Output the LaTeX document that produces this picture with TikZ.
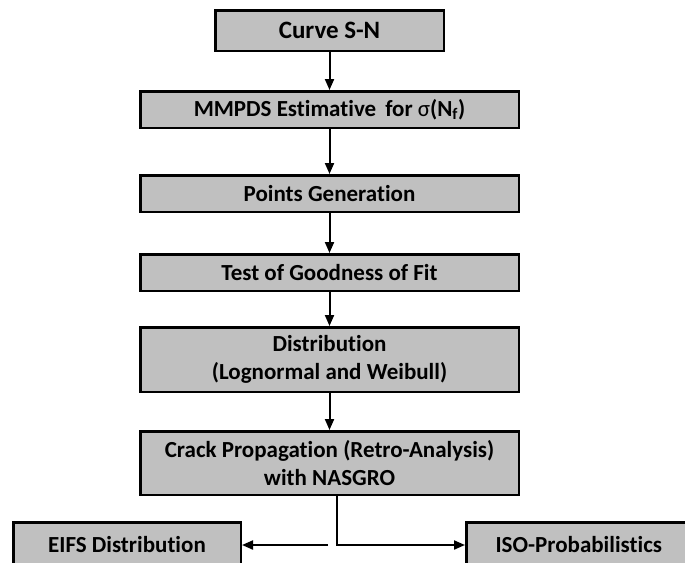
\documentclass[tikz,border=0pt]{standalone}
\usepackage{fontspec}
\setmainfont[Ligatures=NoCommon]{Carlito}
\usetikzlibrary{arrows.meta}
\definecolor{boxgray}{RGB}{192,192,192}
\tikzset{
  box/.style={draw, line width=2.5pt, fill=boxgray, minimum width=378.5pt,
    minimum height=36.5pt, inner sep=0pt, align=center,
    font=\bfseries\fontsize{23}{28}\selectfont},
  arr/.style={line width=2pt, -{Triangle[length=11pt,width=9pt]}},
}
\begin{document}
\begin{tikzpicture}[x=1pt,y=-1pt]
        \clip (0,0) rectangle (685,562);
        \fill[white] (0,0) rectangle (685,562);

        \node[box, minimum width=228.5pt, minimum height=40.5pt,
          font=\bfseries\fontsize{25}{30}\selectfont] at (329.5,30.5) (curve) {Curve S-N};
        \node[box] at (329.5,109.5) (mmpds) {MMPDS Estimative\, for {\mdseries σ}(N\textsubscript{f})};
        \node[box] at (329.5,193.5) (points) {Points Generation};
        \node[box] at (329.5,272.5) (test) {Test of Goodness of Fit};
        \node[box, minimum height=64.5pt] at (329.5,359.5) (dist) {Distribution\\(Lognormal and Weibull)};
        \node[box, minimum height=63.5pt] at (329.5,463) (crack) {Crack Propagation (Retro-Analysis)\\with NASGRO};
        \node[box, minimum width=227.5pt, minimum height=45.5pt] at (127,545) (eifs) {EIFS Distribution};
        \node[box, minimum width=225pt, minimum height=45.5pt] at (578.75,545) (iso) {ISO-Probabilistics};
        \coordinate (gap) at (328,545);

        \draw[arr] (curve) edge (mmpds);
        \draw[arr] (mmpds) edge (points);
        \draw[arr] (points) edge (test);
        \draw[arr] (test) edge (dist);
        \draw[arr] (dist) edge (crack);
        \draw[arr] ([xshift=7.5pt]crack.south) |- (iso);
        \draw[arr] (gap) -- (eifs);
      \end{tikzpicture}
\end{document}
